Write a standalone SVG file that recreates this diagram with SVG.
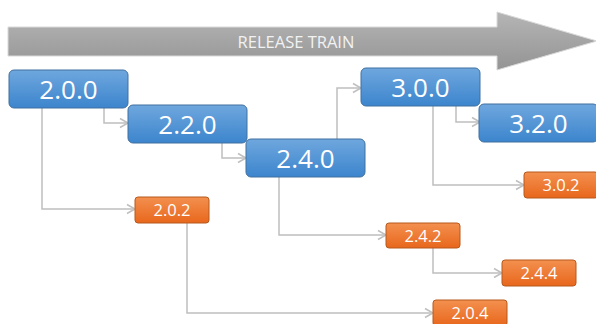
<svg xmlns="http://www.w3.org/2000/svg" width="596" height="324" viewBox="0 0 596 324">
<defs>
<linearGradient id="gArrow" x1="0" y1="0" x2="0" y2="1"><stop offset="0" stop-color="#b5b5b5"/><stop offset="1" stop-color="#949494"/></linearGradient>
<linearGradient id="gBlue" x1="0" y1="0" x2="0" y2="1"><stop offset="0" stop-color="#6fa7de"/><stop offset="1" stop-color="#3c85cd"/></linearGradient>
<linearGradient id="gOrange" x1="0" y1="0" x2="0" y2="1"><stop offset="0" stop-color="#f3904f"/><stop offset="1" stop-color="#e8671c"/></linearGradient>
<marker id="ah" markerWidth="12" markerHeight="12" refX="9" refY="6" orient="auto" markerUnits="userSpaceOnUse"><path d="M1,1.5 L9,6 L1,10.5" fill="none" stroke="#bfbfbf" stroke-width="1.5"/></marker>
</defs>
<style>
.blue rect{fill:url(#gBlue);stroke:#41709f;stroke-width:1}
.orange rect{fill:url(#gOrange);stroke:#b7591c;stroke-width:1}
.blue text{font-family:"Open Sans","Noto Sans",sans-serif;font-size:26px;fill:#fff;text-anchor:middle}
.orange text{font-family:"Open Sans","Noto Sans",sans-serif;font-size:16.5px;fill:#fff;text-anchor:middle}
.conn path{fill:none;stroke:#bfbfbf;stroke-width:1.5;marker-end:url(#ah)}
</style>
<rect width="596" height="324" fill="#fff"/>
<g id="release-train">
<path d="M8,27 H497 V12 L597,41 L497,70 V56 H8 Z" fill="url(#gArrow)" stroke="#d9d9d9" stroke-width="1"/>
<text x="296" y="47.5" font-family="Open Sans, Noto Sans, sans-serif" font-size="16.5" fill="#f2f2f2" text-anchor="middle">RELEASE TRAIN</text>
</g>
<g class="conn" id="connectors">
<path d="M104,108 V123 H128"/>
<path d="M42,108 V209 H135"/>
<path d="M222,143 V158 H246"/>
<path d="M187,223 V313 H433"/>
<path d="M279,177 V235 H386"/>
<path d="M337,140 V88 H361"/>
<path d="M456,106 V122 H480"/>
<path d="M433,106 V185 H524"/>
<path d="M433,248 V273 H502"/>
</g>
<g id="n200" class="blue"><rect x="9" y="70" width="119" height="38" rx="5"/><text x="68.5" y="99">2.0.0</text></g>
<g id="n220" class="blue"><rect x="128" y="105" width="119" height="38" rx="5"/><text x="187.5" y="134">2.2.0</text></g>
<g id="n240" class="blue"><rect x="246" y="139" width="119" height="38" rx="5"/><text x="305.5" y="168">2.4.0</text></g>
<g id="n300" class="blue"><rect x="361" y="68" width="119" height="38" rx="5"/><text x="420.5" y="97">3.0.0</text></g>
<g id="n320" class="blue"><rect x="479" y="104" width="119" height="38" rx="5"/><text x="538.5" y="133">3.2.0</text></g>
<g id="n202" class="orange"><rect x="135" y="197" width="74" height="26" rx="3"/><text x="172" y="216">2.0.2</text></g>
<g id="n302" class="orange"><rect x="524" y="172" width="74" height="26" rx="3"/><text x="561" y="191">3.0.2</text></g>
<g id="n242" class="orange"><rect x="386" y="223" width="74" height="25" rx="3"/><text x="423" y="241.5">2.4.2</text></g>
<g id="n244" class="orange"><rect x="502" y="260" width="74" height="26" rx="3"/><text x="539" y="279">2.4.4</text></g>
<g id="n204" class="orange"><rect x="433" y="300" width="74" height="26" rx="3"/><text x="470" y="319">2.0.4</text></g>
</svg>
